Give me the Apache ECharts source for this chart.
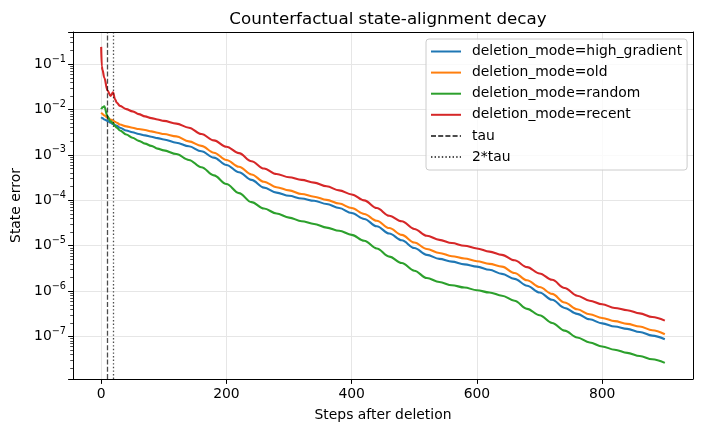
<!DOCTYPE html>
<html>
<head>
<meta charset="utf-8">
<script src="https://cdn.jsdelivr.net/npm/echarts@6/dist/echarts.min.js"></script>
<style>
  html, body { margin: 0; padding: 0; background: #fff; }
  #chart { width: 702px; height: 432px; }
</style>
</head>
<body>
<div id="chart"></div>
<script>
// steps after deletion (x), values as log10(state error)
const steps = [0, 1, 2, 5, 10, 15, 19, 22, 25, 30, 40, 50, 60, 70, 80, 90, 100,
  120, 140, 160, 180, 200, 220, 240, 260, 280, 300, 320, 340, 360, 380, 400,
  420, 440, 460, 480, 500, 520, 540, 560, 580, 600, 620, 640, 660, 680, 700,
  720, 740, 760, 780, 800, 820, 840, 860, 880, 900];

const highGradientLog = [-2.17, -2.18, -2.19, -2.22, -2.25, -2.29, -2.32, -2.34, -2.36, -2.40, -2.46, -2.50, -2.54, -2.57, -2.60, -2.63, -2.66,
  -2.73, -2.81, -2.92, -3.06, -3.22, -3.38, -3.55, -3.72, -3.83, -3.90, -3.96, -4.01, -4.08, -4.17, -4.28,
  -4.41, -4.57, -4.73, -4.88, -5.05, -5.20, -5.29, -5.35, -5.41, -5.46, -5.53, -5.62, -5.73, -5.88, -6.03,
  -6.19, -6.37, -6.50, -6.62, -6.71, -6.78, -6.83, -6.90, -6.98, -7.06];

const oldLog = [-2.07, -2.08, -2.10, -2.13, -2.18, -2.22, -2.24, -2.27, -2.29, -2.33, -2.37, -2.40, -2.43, -2.45, -2.48, -2.51, -2.54,
  -2.59, -2.70, -2.80, -2.95, -3.11, -3.26, -3.43, -3.59, -3.71, -3.78, -3.86, -3.92, -3.99, -4.07, -4.17,
  -4.30, -4.45, -4.61, -4.76, -4.93, -5.07, -5.16, -5.23, -5.28, -5.34, -5.40, -5.46, -5.60, -5.76, -5.91,
  -6.06, -6.25, -6.40, -6.51, -6.59, -6.66, -6.72, -6.78, -6.86, -6.95];

const randomLog = [-1.99, -1.97, -1.95, -1.93, -2.15, -2.26, -2.30, -2.36, -2.40, -2.46, -2.55, -2.62, -2.69, -2.75, -2.80, -2.86, -2.90,
  -2.98, -3.11, -3.27, -3.45, -3.64, -3.84, -4.04, -4.18, -4.29, -4.38, -4.46, -4.52, -4.60, -4.67, -4.76,
  -4.89, -5.06, -5.24, -5.38, -5.55, -5.71, -5.80, -5.87, -5.92, -5.98, -6.03, -6.10, -6.21, -6.39, -6.53,
  -6.70, -6.87, -7.02, -7.13, -7.22, -7.29, -7.36, -7.43, -7.50, -7.58];

const recentLog = [-0.62, -1.05, -1.12, -1.30, -1.58, -1.70, -1.62, -1.77, -1.85, -1.92, -1.99, -2.04, -2.10, -2.15, -2.19, -2.22, -2.25,
  -2.31, -2.40, -2.54, -2.68, -2.82, -2.96, -3.14, -3.30, -3.42, -3.49, -3.55, -3.61, -3.69, -3.78, -3.87,
  -4.00, -4.17, -4.34, -4.46, -4.63, -4.78, -4.87, -4.94, -5.00, -5.06, -5.13, -5.20, -5.32, -5.47, -5.61,
  -5.75, -5.93, -6.10, -6.21, -6.29, -6.37, -6.42, -6.49, -6.57, -6.65];

const seriesNames = ['deletion_mode=high_gradient', 'deletion_mode=old', 'deletion_mode=random', 'deletion_mode=recent'];
const seriesLogs = [highGradientLog, oldLog, randomLog, recentLog];
const colors = ['#1f77b4', '#ff7f0e', '#2ca02c', '#d62728'];
const tau = 10;

const font = 'DejaVu Sans';
const fs = 13.9;
const xMin = -45, xMax = 945;
const yMin = Math.pow(10, -7.935), yMax = Math.pow(10, -0.292);
const gridColor = '#e6e6e6';
const refColor = 'rgba(0,0,0,0.7)';

function toPoints(logs) {
  return steps.map((s, i) => [s, Math.pow(10, logs[i])]);
}

function powLabel(v) {
  const lg = Math.log10(v);
  const e = Math.round(lg);
  if (Math.abs(lg - e) > 0.01) return '';
  return '{b|10}{s|' + (e < 0 ? '\u2212' : '') + Math.abs(e) + '}';
}

const series = seriesNames.map((name, i) => ({
  name: name,
  type: 'line',
  data: toPoints(seriesLogs[i]),
  symbol: 'none',
  smooth: 0.35,
  smoothMonotone: 'x',
  lineStyle: { color: colors[i], width: 2.1 },
  itemStyle: { color: colors[i] },
  xAxisIndex: 0, yAxisIndex: 0
}));

function refLine(name, x, dash) {
  const style = { color: refColor, width: 1.3, type: dash };
  return {
    name: name,
    type: 'line',
    data: [],
    symbol: 'none',
    lineStyle: style,
    itemStyle: { color: refColor },
    markLine: {
      silent: true,
      symbol: ['none', 'none'],
      label: { show: false },
      lineStyle: style,
      data: [{ xAxis: x }]
    }
  };
}
series.push(refLine('tau', tau, [5, 2.2]));
series.push(refLine('2*tau', 2 * tau, [1.4, 2.2]));

const chart = echarts.init(document.getElementById('chart'));
chart.setOption({
  animation: false,
  textStyle: { fontFamily: font, color: '#000' },
  title: {
    text: 'Counterfactual state-alignment decay',
    left: 383, top: 6, textAlign: 'center',
    textStyle: { fontFamily: font, fontSize: 16.7, fontWeight: 'normal', color: '#000' }
  },
  grid: { left: 73, right: 9, top: 32, bottom: 53, containLabel: false },
  legend: {
    orient: 'vertical', left: 426, top: 39,
    padding: [5.5, 5, 6, 4],
    itemWidth: 30, itemHeight: 14, itemGap: 7.1,
    itemStyle: { opacity: 0 },
    backgroundColor: 'rgba(255,255,255,0.8)',
    borderColor: '#cccccc', borderWidth: 1, borderRadius: 3,
    textStyle: { fontFamily: font, fontSize: fs, color: '#000', padding: [0, 0, 0, 6] },
    data: seriesNames.concat(['tau', '2*tau'])
  },
  xAxis: [{
    type: 'value', min: xMin, max: xMax,
    name: 'Steps after deletion', nameLocation: 'middle', nameGap: 29,
    nameTextStyle: { fontFamily: font, fontSize: fs, color: '#000' },
    axisLine: { onZero: false, lineStyle: { color: '#000', width: 1 } },
    axisTick: { length: 4.9, lineStyle: { color: '#000', width: 1 } },
    axisLabel: { margin: 8, fontFamily: font, fontSize: fs, color: '#000', showMinLabel: false, showMaxLabel: false },
    splitLine: { show: true, showMinLine: false, showMaxLine: false, lineStyle: { color: gridColor, width: 1 } }
  }, {
    type: 'value', position: 'top', min: xMin, max: xMax,
    axisLine: { show: true, onZero: false, lineStyle: { color: '#000', width: 1 } },
    axisTick: { show: false }, axisLabel: { show: false }, splitLine: { show: false }
  }],
  yAxis: [{
    type: 'log', logBase: 10, min: yMin, max: yMax,
    name: 'State error', nameLocation: 'middle', nameGap: 50,
    nameTextStyle: { fontFamily: font, fontSize: fs, color: '#000' },
    axisLine: { show: true, onZero: false, lineStyle: { color: '#000', width: 1 } },
    axisTick: { show: true, length: 4.9, lineStyle: { color: '#000', width: 1 } },
    minorTick: { show: true, splitNumber: 9, length: 2.8, lineStyle: { color: '#000', width: 0.7 } },
    axisLabel: {
      margin: 7, showMinLabel: false, showMaxLabel: false,
      formatter: powLabel,
      rich: {
        b: { fontFamily: font, fontSize: fs, color: '#000', lineHeight: 20 },
        s: { fontFamily: font, fontSize: 9.7, color: '#000', lineHeight: 11, verticalAlign: 'top' }
      }
    },
    splitLine: { show: true, showMinLine: false, showMaxLine: false, lineStyle: { color: gridColor, width: 1 } }
  }, {
    type: 'log', logBase: 10, position: 'right', min: yMin, max: yMax,
    axisLine: { show: true, onZero: false, lineStyle: { color: '#000', width: 1 } },
    axisTick: { show: false }, axisLabel: { show: false }, splitLine: { show: false }
  }],
  series: series
});
</script>
</body>
</html>
